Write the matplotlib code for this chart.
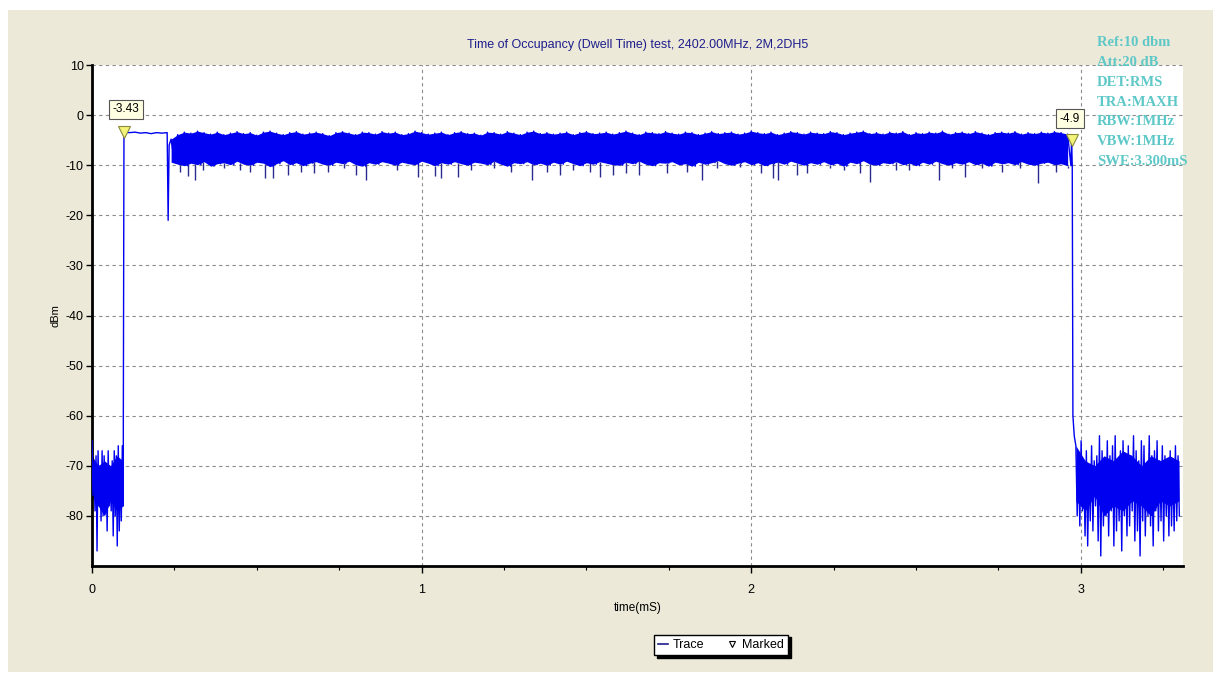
import numpy as np
import matplotlib
matplotlib.use("Agg")
import matplotlib.pyplot as plt
from matplotlib.lines import Line2D
from matplotlib.patches import Rectangle

# ---- data ----
TITLE = "Time of Occupancy (Dwell Time) test, 2402.00MHz, 2M,2DH5"
SETTINGS = ["Ref:10 dbm", "Att:20 dB", "DET:RMS", "TRA:MAXH",
            "RBW:1MHz", "VBW:1MHz", "SWE:3.300mS"]

# noise floor before the burst (0 .. 0.092 ms), upper / lower excursions
pre_hi = [-65, -69, -68, -67, -70, -67, -68, -71, -67, -72, -69, -67, -68, -66, -70, -66]
pre_lo = [-76, -79, -87, -78, -81, -80, -75, -83, -78, -79, -84, -80, -86, -83, -81, -78]
# solid core of that noise
pre_core_hi = [-68, -70, -69, -70, -68, -69]
pre_core_lo = [-76, -78, -80, -77, -79, -78]

# flat part right after switch-on (0.097 .. 0.228 ms)
flat_y = [-3.43, -3.5, -3.4, -3.6, -3.5, -3.7, -3.5, -3.6, -3.5]
dip_y = -21.0

# burst band (0.24 .. 2.96 ms, 0.02 ms bins): top edge and core bottom edge
band_hi = [-4.8, -3.9, -3.4, -3.6, -3.2, -3.5, -3.8, -3.4, -3.9, -3.6,
           -3.3, -3.7, -3.5, -4.0, -3.4, -3.2, -3.6, -3.9, -3.5, -3.3,
           -3.8, -3.6, -3.4, -3.7, -4.1, -3.5, -3.3, -3.6, -3.9, -3.4,
           -3.5, -3.8, -3.3, -3.6, -3.4, -3.9, -3.7, -3.2, -3.5, -3.8,
           -3.6, -3.4, -3.9, -3.5, -3.3, -3.7, -3.6, -4.0, -3.4, -3.5,
           -3.8, -3.3, -3.6, -3.9, -3.4, -3.2, -3.7, -3.5, -3.8, -3.6,
           -3.4, -3.9, -3.5, -3.3, -3.7, -3.6, -3.4, -3.8, -3.5, -3.2,
           -3.6, -3.9, -3.4, -3.5, -3.7, -3.3, -3.6, -3.8, -3.4, -3.5,
           -3.9, -3.6, -3.3, -3.7, -3.5, -3.4, -3.8, -3.6, -3.2, -3.5,
           -3.7, -3.4, -3.9, -3.6, -3.3, -3.5, -3.8, -3.4, -3.6, -3.7,
           -3.3, -3.5, -3.9, -3.6, -3.4, -3.2, -3.7, -3.5, -3.8, -3.4,
           -3.6, -3.3, -3.9, -3.5, -3.7, -3.4, -3.6, -3.2, -3.8, -3.5,
           -3.4, -3.7, -3.3, -3.6, -3.9, -3.5, -3.4, -3.6, -3.3, -3.8,
           -3.5, -3.7, -3.4, -3.6, -3.3, -3.5, -3.8]
band_lo = [-9.4, -9.8, -10.1, -9.6, -9.9, -9.3, -10.2, -9.7, -9.5, -9.9,
           -9.2, -9.8, -10.0, -9.4, -9.6, -10.3, -9.7, -9.1, -9.9, -9.5,
           -10.1, -9.6, -9.3, -9.8, -10.0, -9.4, -9.7, -9.2, -9.9, -10.2,
           -9.5, -9.8, -9.3, -9.6, -10.0, -9.4, -9.7, -9.9, -9.2, -9.6,
           -10.1, -9.5, -9.8, -9.3, -9.7, -10.0, -9.4, -9.6, -9.9, -9.2,
           -9.8, -10.2, -9.5, -9.7, -9.3, -9.9, -9.6, -10.0, -9.4, -9.8,
           -9.2, -9.7, -10.1, -9.5, -9.8, -9.3, -9.6, -9.9, -10.0, -9.4,
           -9.7, -9.2, -9.8, -10.1, -9.5, -9.6, -9.3, -9.9, -9.7, -10.2,
           -9.4, -9.8, -9.5, -9.1, -9.7, -10.0, -9.6, -9.3, -9.9, -9.5,
           -10.1, -9.7, -9.4, -9.8, -9.2, -9.6, -10.0, -9.5, -9.8, -9.3,
           -9.9, -9.6, -10.2, -9.4, -9.7, -9.1, -9.8, -10.0, -9.5, -9.7,
           -9.3, -9.9, -9.6, -10.1, -9.4, -9.8, -9.2, -9.7, -10.0, -9.5,
           -9.8, -9.3, -9.9, -9.6, -10.2, -9.4, -9.7, -9.5, -9.9, -9.3,
           -9.8, -10.0, -9.6, -9.4, -9.9, -9.7, -10.1]

# deeper downward spikes inside the burst (time ms, level dBm)
spike_t = [0.267, 0.29, 0.313, 0.337, 0.40, 0.45, 0.48, 0.525, 0.55, 0.595,
           0.635, 0.675, 0.715, 0.765, 0.80, 0.83, 0.925, 0.99, 1.04, 1.06,
           1.11, 1.15, 1.22, 1.27, 1.335, 1.38, 1.42, 1.46, 1.51, 1.54,
           1.58, 1.62, 1.66, 1.745, 1.805, 1.85, 1.895, 1.965, 2.03, 2.065,
           2.08, 2.14, 2.17, 2.24, 2.28, 2.33, 2.36, 2.44, 2.48, 2.57,
           2.61, 2.65, 2.70, 2.76, 2.815, 2.87, 2.925, 2.96]
spike_y = [-11.3, -12.1, -12.9, -10.9, -10.6, -10.9, -11.3, -12.6, -12.6, -11.9,
           -11.3, -11.6, -11.3, -10.6, -11.9, -12.9, -10.9, -12.3, -12.1, -12.6,
           -12.3, -10.9, -10.6, -11.3, -12.9, -11.3, -11.9, -10.9, -11.3, -12.3,
           -11.9, -11.6, -11.9, -11.6, -11.3, -12.9, -10.6, -10.3, -11.6, -12.6,
           -12.9, -11.9, -11.6, -10.6, -10.9, -11.6, -13.3, -10.9, -10.9, -12.9,
           -10.6, -12.3, -10.6, -11.3, -10.6, -13.6, -11.3, -10.6]

# noise floor after the burst (2.985 .. 3.295 ms)
post_hi = [-66, -68, -65, -70, -67, -71, -66, -69, -68, -64, -67, -70, -65, -68, -66, -64,
           -69, -67, -65, -70, -66, -68, -64, -67, -69, -65, -66, -70, -64, -68, -67, -65,
           -69, -66, -68, -70, -67, -69, -66, -68]
post_lo = [-80, -82, -79, -84, -86, -81, -83, -78, -85, -88, -82, -80, -84, -79, -86, -83,
           -81, -87, -80, -84, -82, -79, -85, -83, -88, -81, -84, -80, -82, -86, -79, -83,
           -81, -85, -80, -84, -82, -83, -81, -80]
post_core_hi = [-66, -69, -70, -68, -69, -67, -68, -70, -68, -69, -68, -69]
post_core_lo = [-77, -79, -76, -80, -78, -79, -77, -78, -80, -77, -78, -77]

marker_t = [0.098, 2.972]
marker_y = [-3.43, -4.9]
marker_txt = ["-3.43", "-4.9"]


def zigzag(t, hi, lo, half):
    t = np.asarray(t)
    x = np.column_stack([t, t + half]).ravel()
    y = np.column_stack([hi, lo]).ravel()
    return x, y


def main():
    plt.rcParams["axes.unicode_minus"] = False
    fig = plt.figure(figsize=(12.18, 6.8), dpi=100, facecolor="white")
    fig.patches.append(Rectangle((8 / 1218, 8 / 680), 1205 / 1218, 662 / 680,
                                 transform=fig.transFigure, facecolor="#ECE9D8",
                                 edgecolor="none", zorder=-10))
    ax = fig.add_axes([92 / 1218, 1 - 566 / 680, 1091 / 1218, 501 / 680])
    ax.set_facecolor("white")

    t_pre = np.linspace(0.0, 0.092, len(pre_hi))
    t_pre_core = np.linspace(0.0, 0.094, len(pre_core_hi))
    t_flat = np.linspace(0.098, 0.228, len(flat_y))
    t_band = np.linspace(0.24, 2.96, len(band_hi))
    t_post = np.linspace(2.985, 3.295, len(post_hi))
    t_post_core = np.linspace(2.985, 3.298, len(post_core_hi))

    xp, yp = zigzag(t_pre, pre_hi, pre_lo, 0.003)
    xb, yb = zigzag(t_band, band_hi, band_lo, 0.01)
    xq, yq = zigzag(t_post, post_hi, post_lo, 0.004)

    x = np.concatenate([xp, [0.095, 0.097], t_flat, [0.231, 0.234], xb,
                        [marker_t[1], 2.974, 2.976, 2.98], xq])
    y = np.concatenate([yp, [-62, flat_y[0]], flat_y, [dip_y, -6], yb,
                        [marker_y[1], -10, -60, -64], yq])

    blue = "#0000F0"
    ax.fill_between(t_band, band_hi, band_lo, color=blue, lw=0, zorder=2)
    ax.fill_between(t_pre_core, pre_core_hi, pre_core_lo, color=blue, lw=0, zorder=2)
    ax.fill_between(t_post_core, post_core_hi, post_core_lo, color=blue, lw=0, zorder=2)
    ax.vlines(spike_t, np.interp(spike_t, t_band, band_lo), spike_y,
              color="#2B2B8F", lw=1.0, zorder=2)
    ax.plot(x, y, color=blue, lw=1.0, zorder=3)

    ax.plot(marker_t, marker_y, ls="none", marker="v", ms=8,
            mfc="#F3F37A", mec="#8A8A3A", mew=0.8, zorder=5)
    for mt, my, txt, dx, dy in zip(marker_t, marker_y, marker_txt, [0.004, -0.005], [4.6, 4.2]):
        ax.text(mt + dx, my + dy, txt, ha="center", va="center", fontsize=8.5,
                family="Liberation Sans", color="black", zorder=6,
                bbox=dict(boxstyle="square,pad=0.3", fc="#FFFFE1", ec="#555555", lw=0.8))

    ax.set_xlim(0, 3.31)
    ax.set_ylim(-90, 10)
    ax.set_xticks([0, 1, 2, 3])
    ax.set_xticks(np.arange(0.25, 3.3, 0.25), minor=True)
    ax.set_yticks(np.arange(-80, 11, 10))
    ax.grid(True, which="major", color="#8C8C8C", ls=(0, (3, 3)), lw=0.8)
    ax.set_axisbelow(True)

    for s in ["top", "right"]:
        ax.spines[s].set_visible(False)
    for s in ["left", "bottom"]:
        ax.spines[s].set_linewidth(2)
        ax.spines[s].set_color("black")
    ax.tick_params(axis="y", which="major", direction="out", length=4, width=1,
                   labelsize=9, pad=2)
    ax.tick_params(axis="x", which="major", direction="out", length=5, width=1,
                   labelsize=9, pad=8)
    ax.tick_params(axis="x", which="minor", direction="out", length=3, width=0.8)
    for lab in ax.get_xticklabels() + ax.get_yticklabels():
        lab.set_family("Liberation Sans")

    ax.set_title(TITLE, fontsize=9, color="#1E1E8C", family="Liberation Sans", pad=12)
    ax.set_xlabel("time(mS)", fontsize=8.5, family="Liberation Sans", labelpad=4)
    ax.set_ylabel("dBm", fontsize=8, family="Liberation Sans", labelpad=4)

    for i, s in enumerate(SETTINGS):
        fig.text(1097 / 1218, 1 - (43 + 19.7 * i) / 680, s, fontsize=10.5, weight="bold",
                 family="Liberation Serif", color="#5EC8C8", ha="left", va="center")

    handles = [Line2D([], [], color="#1E1E8C", lw=1.2),
               Line2D([], [], ls="none", marker="v", ms=5, mfc="white", mec="black", mew=0.8)]
    fig.legend(handles, ["Trace", "Marked"], loc="center", bbox_to_anchor=(0.592, 0.0515),
               ncol=2, prop={"family": "Liberation Sans", "size": 9},
               frameon=True, fancybox=False, edgecolor="black", framealpha=1,
               handlelength=0.8, handletextpad=0.4, columnspacing=1.8,
               borderpad=0.35, borderaxespad=0, shadow={"color": "black", "alpha": 1})

    fig.savefig("out.png", dpi=100, facecolor=fig.get_facecolor())


if __name__ == "__main__":
    main()
